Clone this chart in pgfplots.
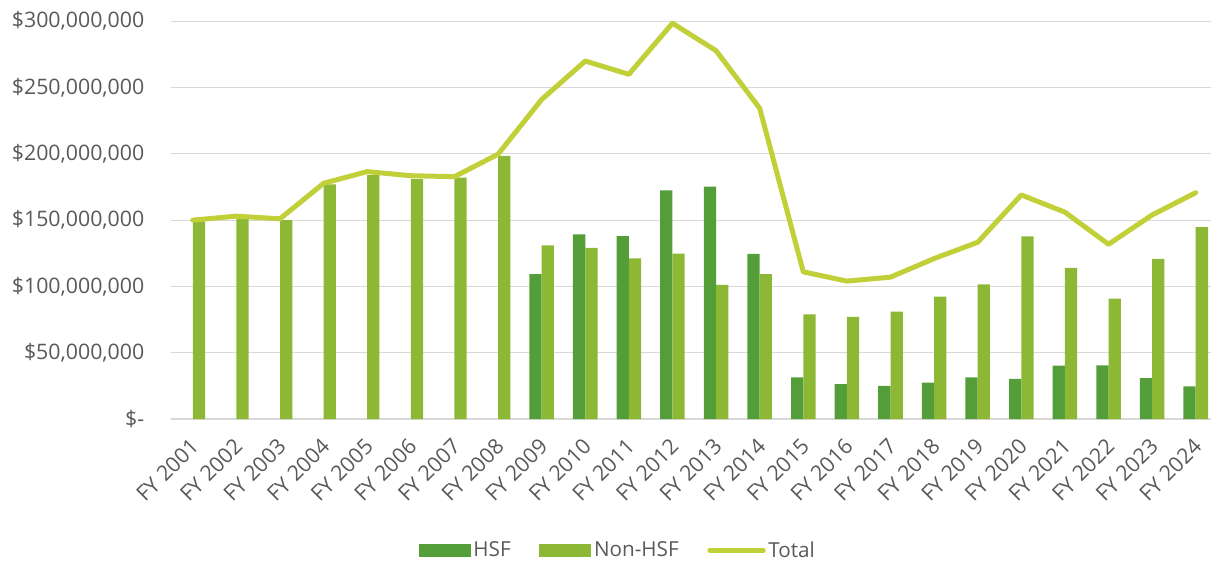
\documentclass[border=0pt]{standalone}
\usepackage{pgfplots}
\pgfplotsset{compat=1.18}
\usepackage{pgfplotstable}
\usepackage{fontspec}
\setmainfont{Open Sans}
\definecolor{hsf}{RGB}{84,158,57}
\definecolor{nonhsf}{RGB}{140,184,54}
\definecolor{total}{RGB}{193,208,56}
\definecolor{txt}{RGB}{89,89,89}
\definecolor{grid}{RGB}{217,217,217}
% values in millions of dollars
\pgfplotstableread{
x hsf
8 109.2
9 139.3
10 138.0
11 172.5
12 175.3
13 124.5
14 31.4
15 26.4
16 24.9
17 27.4
18 31.4
19 30.2
20 40.2
21 40.5
22 30.9
23 24.7
}\hsftable
\pgfplotstableread{
x non
0 149.0
1 151.4
2 150.0
3 177.0
4 184.0
5 181.0
6 182.0
7 198.4
8 131.0
9 129.0
10 121.2
11 124.7
12 101.1
13 109.2
14 79.0
15 77.0
16 81.0
17 92.3
18 101.6
19 137.8
20 113.9
21 90.8
22 120.7
23 144.8
}\nontable
\pgfplotstableread{
x total
0 150.0
1 153.0
2 151.0
3 177.8
4 186.6
5 183.5
6 182.8
7 199.7
8 241.0
9 270.0
10 260.0
11 298.5
12 277.8
13 234.4
14 111.0
15 104.0
16 107.0
17 121.0
18 133.3
19 169.0
20 156.0
21 131.8
22 153.9
23 170.7
}\totaltable
\begin{document}
\begin{tikzpicture}
\useasboundingbox (-128.25pt,-106.5pt) rectangle (780pt,314.25pt);
\begin{axis}[
  scale only axis,
  width=780pt, height=298.3pt,
  xmin=-0.5, xmax=23.35,
  ymin=0, ymax=300,
  ytick={0,50,100,150,200,250,300},
  yticklabels={{\$-},{\$50,000,000},{\$100,000,000},{\$150,000,000},{\$200,000,000},{\$250,000,000},{\$300,000,000}},
  xtick={0,...,23},
  xticklabels={FY 2001,FY 2002,FY 2003,FY 2004,FY 2005,FY 2006,FY 2007,FY 2008,FY 2009,FY 2010,FY 2011,FY 2012,FY 2013,FY 2014,FY 2015,FY 2016,FY 2017,FY 2018,FY 2019,FY 2020,FY 2021,FY 2022,FY 2023,FY 2024},
  ymajorgrids,
  major grid style={draw=grid, line width=0.9pt},
  axis line style={draw=none},
  major tick length=0pt,
  tick label style={font=\fontsize{16}{19}\selectfont, text=txt},
  yticklabel style={anchor=east, xshift=-16.5pt},
  xticklabel style={xshift=3.9pt, yshift=-15.4pt, rotate=45, anchor=east},
  ybar=0pt,
  bar width=9.2pt,
  legend style={at={(0.43,-0.33)}, anchor=center, draw=none, fill=none,
    legend columns=3, font=\fontsize{15.5}{18}\selectfont, text=txt,
    /tikz/every even column/.append style={column sep=19.5pt},
    inner sep=0pt},
  legend cell align=left,
  clip=false,
]
\addplot[fill=hsf, draw=none,
  area legend,
  legend image code/.code={\fill[hsf] (0pt,-5pt) rectangle (39pt,5pt);}]
  table[x=x, y=hsf] {\hsftable};
\addlegendentry{HSF}
\addplot[fill=nonhsf, draw=none,
  area legend,
  legend image code/.code={\fill[nonhsf] (0pt,-5pt) rectangle (39pt,5pt);}]
  table[x=x, y=non] {\nontable};
\addlegendentry{Non-HSF}
\addplot[sharp plot, draw=total, line width=3.75pt, line join=round, line cap=round, mark=none,
  legend image code/.code={\draw[total, line width=3.75pt, line cap=round] (0pt,0pt) -- (40pt,0pt);}]
  table[x=x, y=total] {\totaltable};
\addlegendentry{Total}
\end{axis}
\end{tikzpicture}
\end{document}
